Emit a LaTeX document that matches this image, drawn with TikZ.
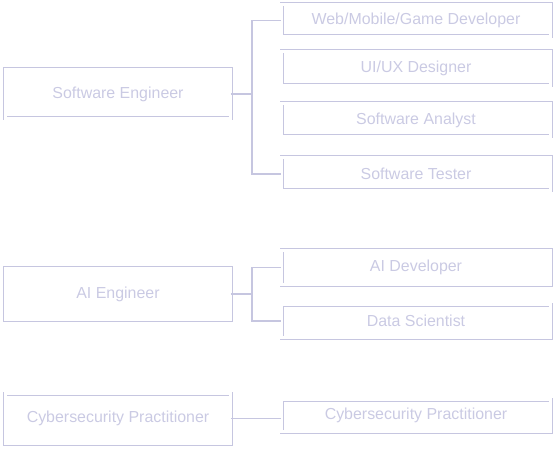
\documentclass[tikz,border=0pt]{standalone}
\usepackage{fontspec}
\setmainfont{Liberation Sans}
\definecolor{lila}{HTML}{C6C6E0}
\definecolor{lilatexto}{HTML}{CACAE3}
\tikzset{
  caja/.style={draw=lila, double=white, double distance=2.2bp, line width=0.9bp,
    text=lilatexto, font=\fontsize{16}{18}\selectfont, inner sep=0pt},
  izq/.style={caja, minimum width=225bp},
  der/.style={caja, minimum width=269bp},
  linea/.style={draw=lila, line width=1.4bp}
}
\begin{document}
\begin{tikzpicture}[x=1bp, y=-1bp]
    \useasboundingbox (0,0) rectangle (555,449);
    % carreras
    \node[izq, minimum height=49bp] (se) at (118,94) {Software Engineer};
    \node[izq, minimum height=51bp] (ai) at (118,294) {AI Engineer};
    \node[izq, minimum height=50bp] (cyb) at (118,418.5) {Cybersecurity Practitioner};
    % puestos
    \node[der, minimum height=32bp] (web) at (416,20.5) {Web/Mobile/Game Developer};
    \node[der, minimum height=34bp] (uiux) at (416,68.5) {UI/UX Designer};
    \node[der, minimum height=33bp] (analyst) at (416,120) {Software Analyst};
    \node[der, minimum height=33bp] (tester) at (416,174) {Software Tester};
    \node[der, minimum height=34bp] (aidev) at (416,267.5) {AI Developer};
    \node[der, minimum height=33bp] (datasci) at (416,321) {Data Scientist};
    \node[der, minimum height=32bp] (cybpr) at (416,415.5) {Cybersecurity Practitioner};
    % conectores
    \coordinate (sebus) at (252,94);
    \coordinate (aibus) at (252,294);
    \draw[linea] (se.east) -- (sebus);
    \draw[linea] (web.west) -| (sebus) |- (tester.west);
    \draw[linea] (ai.east) -- (aibus);
    \draw[linea] (aidev.west) -| (aibus) |- (datasci.west);
    \draw[linea] (cyb.east) -- (cyb.east -| cybpr.west);
\end{tikzpicture}
\end{document}
